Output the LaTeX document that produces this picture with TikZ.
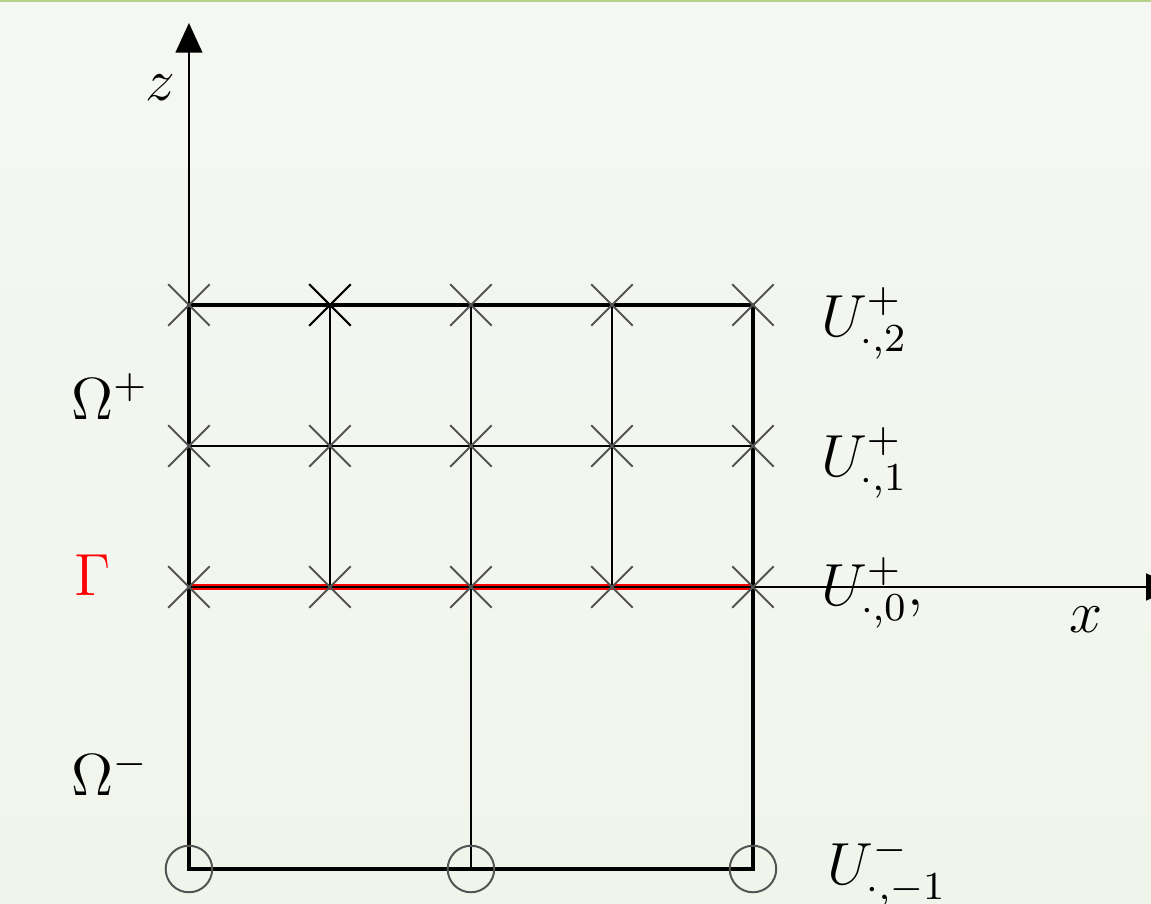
\documentclass[tikz,border=0pt]{standalone}
\usepackage{amsmath}
\usetikzlibrary{arrows.meta,shapes.misc}

\definecolor{bgtop}{RGB}{245,247,243}
\definecolor{bgbot}{RGB}{240,245,235}
\definecolor{topline}{RGB}{181,211,138}

\begin{document}
\begin{tikzpicture}[
    font=\large,
    gpt/.style={cross out, draw=black!67, line width=0.4pt, minimum size=0.28cm, inner sep=0pt},
    bpt/.style={circle, draw=black!67, line width=0.4pt, minimum size=0.33cm, inner sep=0pt},
    bound/.style={line width=0.95pt},
    grid/.style={line width=0.4pt},
    axis/.style={-{Triangle[length=6pt,width=5.4pt]}, line width=0.4pt}
    ]
    \useasboundingbox (-1.340,-2.248) rectangle (6.823,4.163);
    \shade[top color=bgtop, bottom color=bgbot] (-1.340,-2.248) rectangle (6.823,4.163);
    \draw[topline, line width=0.5pt] (-1.340,4.158) -- (6.823,4.158);

    % grid points
    \foreach \i in {0,...,4}
        \foreach \j in {0,1,2}
            \coordinate (p-\i-\j) at (\i,\j);
    \coordinate (q-0) at (0,-2);
    \coordinate (q-2) at (2,-2);
    \coordinate (q-4) at (4,-2);
    \coordinate (o) at (0,0);
    \coordinate (xend) at (7,0);
    \coordinate (zend) at (0,4);

    % interface and axes
    \draw[red, line width=1.4pt] (p-0-0) -- (p-4-0);
    \draw[axis] (o) -- (xend);
    \draw[axis] (o) -- (zend);

    % mesh lines
    \draw[grid] (p-0-1) -- (p-4-1);
    \foreach \i in {1,2,3}
        \draw[grid] (p-\i-0) -- (p-\i-2);
    \draw[grid] (p-2-0) -- (q-2);
    \draw[bound] (p-0-2) -- (p-4-2) -- (q-4) -- (q-0) -- cycle;

    % unknowns
    \foreach \i in {0,...,4}
        \foreach \j in {0,1,2}
            \node[gpt] (u-\i-\j) at (p-\i-\j) {};
    \node[gpt, draw=black] at (p-1-2) {};
    \foreach \i in {0,2,4}
        \node[bpt] (v-\i) at (q-\i) {};

    % labels
    \node (zlab) at (-0.206,3.54) {$z$};
    \node (xlab) at (6.36,-0.234) {$x$};
    \node (omp)  at (-0.56,1.35)  {$\Omega^+$};
    \node[red] (gam) at (-0.68,0.085) {$\Gamma$};
    \node (omm)  at (-0.56,-1.32) {$\Omega^-$};
    \node (u2)   at (4.79,1.87)   {$U^+_{\cdot,2}$};
    \node (u1)   at (4.79,0.88)   {$U^+_{\cdot,1}$};
    \node (u0)   at (4.85,-0.04)  {$U^+_{\cdot,0},$};
    \node (um)   at (4.95,-2.02)  {$U^-_{\cdot,-1}$};
\end{tikzpicture}
\end{document}
